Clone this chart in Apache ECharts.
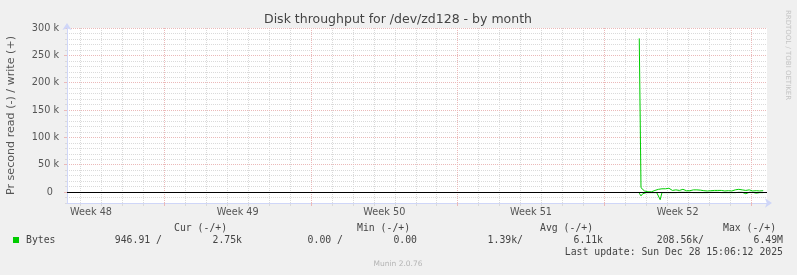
<!DOCTYPE html>
<html><head><meta charset="utf-8">
<script src="https://cdn.jsdelivr.net/npm/echarts@6/dist/echarts.min.js"></script>
<style>html,body{margin:0;padding:0;background:#f0f0f0}#c{width:797px;height:275px}</style>
</head><body><div id="c"></div>
<script>
// ---- data ----
const titleText = 'Disk throughput for /dev/zd128 - by month';
const yAxisName = 'Pr second read (-) / write (+)';
const seriesStart = Date.UTC(2025, 11, 22, 16, 0);
const stepHours = 2;
// write (+) in k bytes/s, 2h samples
const writeK = [281, 8, 7, 2, 0.5, 0.5, 1, 0.5, 2, 3, 4, 5, 3, 6, 7, 6, 8, 7, 4, 3,
  5, 4, 5, 3, 3.5, 5, 3, 2.5, 3, 2.5, 3, 4, 3, 4, 3, 3.5, 3, 2.5, 3, 2,
  3, 2.5, 4, 3, 2, 3, 2.5, 3, 4, 2, 3, 2.5, 3, 2, 3, 4, 3, 5, 6, 4,
  5, 3, 2, 4, 3, 2, 3, 2.5, 3, 2, 3, 2.5];
// read (-) in k bytes/s, drawn negative
const readK = [-2, -7, -3, -1, -1, -2, -1, -0.5, -1, -4, -1, -2, -14, -1, -0.5, -1, -0.5, -1, -0.5, -1,
  -0.5, -1, -2, -0.5, -1, -0.5, -1, -0.5, -1, -0.5, -0.5, -1, -0.5, -1, -2, -1, -0.5, -1, -0.5, -1,
  -3, -0.5, -1, -0.5, -1, -0.5, -2, -1, -0.5, -1, -3, -1, -0.5, -1, -0.5, -1, -2, -0.5, -1, -0.5,
  -1, -3, -1, -0.5, -1, -0.5, -1, -2, -0.5, -1, -0.5, -1];
const weekLabels = ['Week 48', 'Week 49', 'Week 50', 'Week 51', 'Week 52'];
const weekLabelTimes = [Date.UTC(2025,10,26,12), Date.UTC(2025,11,3,12), Date.UTC(2025,11,10,12), Date.UTC(2025,11,17,12), Date.UTC(2025,11,24,12)];
const weekStarts = [Date.UTC(2025,10,30), Date.UTC(2025,11,7), Date.UTC(2025,11,14), Date.UTC(2025,11,21), Date.UTC(2025,11,28)];
const yTicks = [0, 50000, 100000, 150000, 200000, 250000, 300000];
const xMin = Date.UTC(2025, 10, 25, 8, 30), xMax = Date.UTC(2025, 11, 28, 18, 20);
const yMin = -20000, yMax = 300000, yMinorStep = 10000;
const legendName = 'Bytes';
const legendHeaders = ['Cur (-/+)', 'Min (-/+)', 'Avg (-/+)', 'Max (-/+)'];
const legendValues = ['946.91 /', '2.75k', '0.00 /', '0.00', '1.39k/', '6.11k', '208.56k/', '6.49M'];
const lastUpdate = 'Last update: Sun Dec 28 15:06:12 2025';
const versionText = 'Munin 2.0.76';
const watermark = 'RRDTOOL / TOBI OETIKER';

// ---- build ----
const DAY = 86400000;
const dayTicks = [];
for (let t = Date.UTC(2025, 10, 26); t <= xMax; t += DAY) {
  if (weekStarts.indexOf(t) < 0) dayTicks.push(t);
}
const writeData = writeK.map((v, i) => [seriesStart + i * stepHours * 3600000, v * 1000]);
const readData = readK.map((v, i) => [seriesStart + i * stepHours * 3600000, v * 1000]);

const GREEN = '#00cc00', MAJ = '#ebb9b9', MIN = '#dadada', AXIS = '#cfd6f8', FONT = '#555';
const SANS = 'DejaVu Sans', MONO = 'DejaVu Sans Mono';

function txt(text, x, y, o) {
  o = o || {};
  return { type: 'text', x: x, y: y, rotation: o.rot || 0, silent: true,
    style: { text: text, fill: o.fill || '#444', fontFamily: o.ff || MONO, fontSize: o.fs || 9.8,
      align: o.align || 'left', verticalAlign: 'middle' } };
}
const legendHeaderX = [174, 357, 540, 723];
const legendValueRight = [162, 242, 343, 417, 523, 603, 704, 783];
const graphics = [
  txt(titleText, 398, 19.5, { ff: SANS, fs: 12.5, align: 'center', fill: '#444' }),
  txt(yAxisName, 11, 115.5, { ff: SANS, fs: 11.1, align: 'center', rot: Math.PI / 2, fill: FONT }),
  txt(watermark, 787.5, 55, { ff: SANS, fs: 7, align: 'center', rot: -Math.PI / 2, fill: '#c4c4c4' }),
  { type: 'rect', shape: { x: 13, y: 237, width: 6, height: 6 }, style: { fill: GREEN }, silent: true },
  txt(legendName, 26, 240),
  txt(lastUpdate, 783, 252, { align: 'right' }),
  txt(versionText, 398, 264, { ff: SANS, fs: 7.5, align: 'center', fill: '#b4b4b4' })
];
legendHeaders.forEach((h, i) => graphics.push(txt(h, legendHeaderX[i], 228)));
legendValues.forEach((v, i) => graphics.push(txt(v, legendValueRight[i], 240, { align: 'right' })));

const chart = echarts.init(document.getElementById('c'), null, { renderer: 'canvas' });
chart.setOption({
  animation: false,
  backgroundColor: '#f0f0f0',
  grid: { left: 67, right: 30, top: 28, bottom: 72, show: true, backgroundColor: '#ffffff', borderWidth: 0 },
  xAxis: [
    { type: 'value', min: xMin, max: xMax, position: 'bottom', z: 1,
      axisLine: { show: true, onZero: false, lineStyle: { color: AXIS, width: 1 }, symbol: ['none', 'arrow'], symbolSize: [7, 7], symbolOffset: [0, 5] },
      axisTick: { show: true, customValues: weekStarts, length: 3, lineStyle: { color: MAJ } },
      axisLabel: { customValues: weekLabelTimes, margin: 4, color: FONT, fontFamily: SANS, fontSize: 9.7,
        formatter: v => { let b = 0; weekLabelTimes.forEach((t, i) => { if (Math.abs(t - v) < Math.abs(weekLabelTimes[b] - v)) b = i; }); return weekLabels[b]; } },
      splitLine: { show: true, lineStyle: { color: MAJ, width: 1, type: [1, 1] } } },
    { type: 'value', min: xMin, max: xMax, position: 'bottom', z: 0,
      axisLine: { show: false, onZero: false },
      axisTick: { show: true, customValues: dayTicks, length: 3, lineStyle: { color: MIN } },
      axisLabel: { show: false },
      splitLine: { show: true, lineStyle: { color: MIN, width: 1, type: [1, 1] } } }
  ],
  yAxis: [
    { type: 'value', min: yMin, max: yMax, position: 'left', z: 1,
      axisLine: { show: true, onZero: false, lineStyle: { color: AXIS, width: 1 }, symbol: ['none', 'arrow'], symbolSize: [7, 7], symbolOffset: [0, 5] },
      axisTick: { show: true, customValues: yTicks, length: 3, lineStyle: { color: MAJ } },
      axisLabel: { customValues: yTicks, margin: 8, color: FONT, fontFamily: SANS, fontSize: 9.7,
        formatter: v => v === 0 ? '0\u00a0\u00a0' : (v / 1000) + ' k' },
      splitLine: { show: true, lineStyle: { color: MAJ, width: 1, type: [1, 1] } } },
    { type: 'value', min: yMin, max: yMax, interval: yMinorStep, position: 'left', z: 0,
      axisLine: { show: false, onZero: false },
      axisTick: { show: true, length: 2, lineStyle: { color: MIN } },
      axisLabel: { show: false },
      splitLine: { show: true, lineStyle: { color: MIN, width: 1, type: [1, 1] } } }
  ],
  series: [
    { name: 'write', type: 'line', xAxisIndex: 0, yAxisIndex: 0, data: writeData, symbol: 'none', showSymbol: false,
      lineStyle: { color: GREEN, width: 1 }, z: 3,
      markLine: { silent: true, symbol: 'none', label: { show: false }, lineStyle: { color: '#000', width: 1, type: 'solid' }, data: [{ yAxis: 0 }] } },
    { name: 'read', type: 'line', xAxisIndex: 0, yAxisIndex: 0, data: readData, symbol: 'none', showSymbol: false,
      lineStyle: { color: GREEN, width: 1 }, z: 3 }
  ],
  graphic: graphics
});
</script>
</body></html>
